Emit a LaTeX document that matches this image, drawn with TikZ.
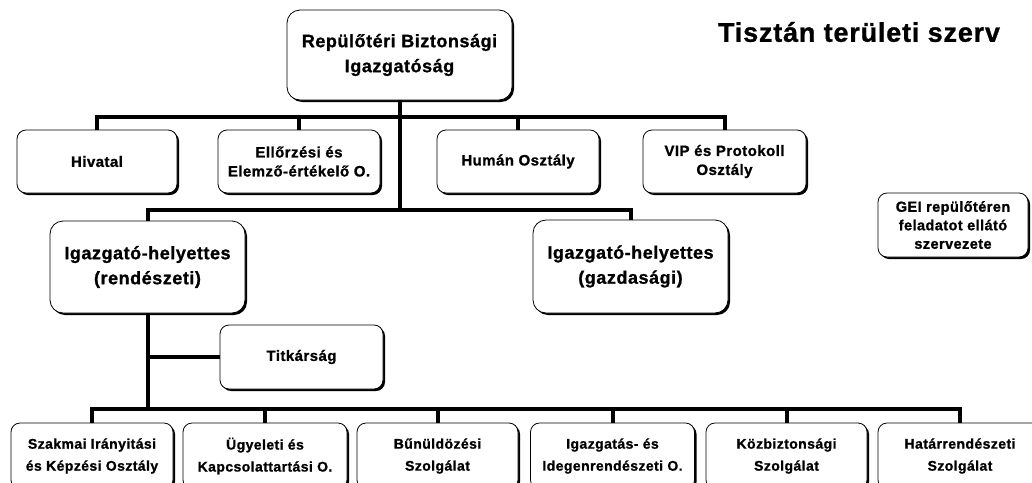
\documentclass[tikz,border=0pt]{standalone}
\usepackage{fontspec}
\setmainfont{Liberation Sans}[LetterSpace=3,BoldFeatures={FakeBold=1}]
\usetikzlibrary{shadows}
\begin{document}
\begin{tikzpicture}[x=1pt,y=-1pt,
  box/.style={draw=black,line width=0.8pt,fill=white,rounded corners=9pt,align=center,
    font=\bfseries\fontsize{15}{19}\selectfont,inner sep=2pt,
    drop shadow={shadow xshift=2pt,shadow yshift=-2pt,fill=black,opacity=1}},
  bigbox/.style={box,rounded corners=13pt,font=\bfseries\fontsize{18}{25}\selectfont},
  lowbox/.style={box,font=\bfseries\fontsize{14}{22}\selectfont},
  conn/.style={line width=4pt,line join=miter}]
\useasboundingbox (0,0) rectangle (1032,482);
\clip (0,0) rectangle (1032,482);
\fill[white] (0,0) rectangle (1032,482);
\coordinate (b2) at (0,117);
\coordinate (b3) at (0,210);
\coordinate (b4) at (0,409);

\node[bigbox,minimum width=225pt,minimum height=90pt] (top) at (399.5,55) {Repülőtéri Biztonsági\\Igazgatóság};
\node[font=\bfseries\fontsize{27}{30}\selectfont] (title) at (859,32) {Tisztán területi szerv};

\node[box,minimum width=160pt,minimum height=63pt] (hiv) at (97,161.5) {Hivatal};
\node[box,minimum width=162pt,minimum height=63pt] (ell) at (299,161.5) {Ellőrzési és\\Elemző-értékelő O.};
\node[box,minimum width=162pt,minimum height=63pt] (hum) at (518,161.5) {Humán Osztály};
\node[box,minimum width=163pt,minimum height=63pt] (vip) at (724.5,161.5) {VIP és Protokoll\\Osztály};

\node[box,minimum width=150pt,minimum height=64pt,font=\bfseries\fontsize{14.5}{18.5}\selectfont] (gei) at (953,225) {GEI repülőtéren\\feladatot ellátó\\szervezete};

\node[bigbox,minimum width=195pt,minimum height=92pt] (rend) at (147.5,267) {Igazgató-helyettes\\(rendészeti)};
\node[bigbox,minimum width=195pt,minimum height=93pt] (gaz) at (630.5,266.5) {Igazgató-helyettes\\(gazdasági)};
\node[box,minimum width=163pt,minimum height=64pt] (titk) at (301.5,357) {Titkárság};

\node[lowbox,minimum width=162pt,minimum height=66pt] (szak) at (92,456) {Szakmai Irányitási\\és Képzési Osztály};
\node[lowbox,minimum width=164pt,minimum height=66pt] (ugy) at (265,456) {Ügyeleti és\\Kapcsolattartási O.};
\node[lowbox,minimum width=161pt,minimum height=66pt] (bun) at (437.5,456) {Bűnüldözési\\Szolgálat};
\node[lowbox,minimum width=164pt,minimum height=66pt] (igr) at (612.5,456) {Igazgatás- és\\Idegenrendészeti O.};
\node[lowbox,minimum width=161pt,minimum height=66pt] (kozb) at (786.5,456) {Közbiztonsági\\Szolgálat};
\node[lowbox,minimum width=164pt,minimum height=66pt] (hat) at (960,456) {Határrendészeti\\Szolgálat};

% level 2
\draw[conn] (hiv.north) |- (vip |- b2) -- (vip.north);
\draw[conn] (ell.north) -- (ell |- b2);
\draw[conn] (hum.north) -- (hum |- b2);
\draw[conn] (top.south) -- (top |- b3);
% level 3
\draw[conn] (rend.north) |- (gaz |- b3) -- (gaz.north);
% rendeszeti branch
\draw[conn] (rend.south) -- (rend |- b4);
\draw[conn] (rend |- titk) -- (titk.west);
\draw[conn] (szak.north) |- (hat |- b4) -- (hat.north);
\draw[conn] (ugy.north) -- (ugy |- b4);
\draw[conn] (bun.north) -- (bun |- b4);
\draw[conn] (igr.north) -- (igr |- b4);
\draw[conn] (kozb.north) -- (kozb |- b4);
\end{tikzpicture}
\end{document}
